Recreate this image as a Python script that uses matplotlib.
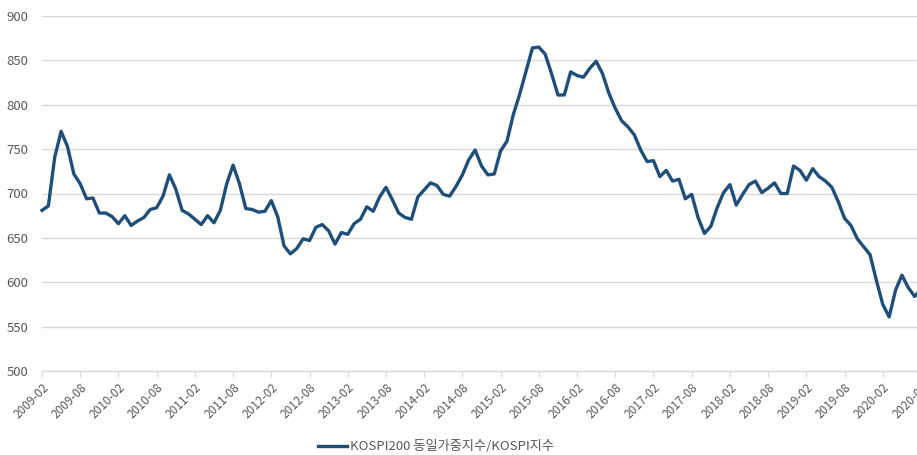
import matplotlib
matplotlib.use("Agg")
import matplotlib.pyplot as plt
import numpy as np

plt.rcParams['font.family'] = ['Noto Sans CJK KR', 'DejaVu Sans']

start_year, start_month = 2009, 2
values = [
    681, 686, 741, 770, 753, 722, 711, 694, 695, 678,
    678, 674, 666, 675, 664, 669, 673, 682, 684, 697,
    721, 705, 681, 677, 671, 665, 675, 667, 681, 711,
    732, 711, 683, 682, 679, 680, 692, 674, 641, 632,
    638, 649, 647, 662, 665, 658, 643, 656, 654, 666,
    671, 685, 680, 696, 707, 693, 678, 673, 671, 696,
    704, 712, 709, 699, 697, 708, 721, 738, 749, 731,
    721, 722, 748, 759, 789, 812, 838, 864, 865, 857,
    835, 811, 811, 837, 833, 831, 841, 849, 835, 813,
    796, 782, 775, 766, 749, 736, 737, 719, 726, 714,
    716, 694, 699, 673, 655, 663, 684, 701, 710, 687,
    699, 710, 714, 701, 706, 712, 700, 700, 731, 726,
    715, 728, 719, 714, 707, 691, 672, 664, 649, 640,
    631, 602, 575, 561, 591, 608, 594, 584, 592,
]
labels = []
for i in range(len(values)):
    m = start_month - 1 + i
    labels.append(f"{start_year + m // 12}-{m % 12 + 1:02d}")
series_name = "KOSPI200 동일가중지수/KOSPI지수"
y_ticks = [500, 550, 600, 650, 700, 750, 800, 850, 900]

W, H = 917, 455
fig = plt.figure(figsize=(W / 100, H / 100), dpi=100)
left_px, right_px, top_px, bot_px = 42, 921, 16, 371
ax = fig.add_axes([left_px / W, (H - bot_px) / H, (right_px - left_px) / W, (bot_px - top_px) / H])

x = np.arange(len(values))
ax.plot(x, values, color='#1F4E79', lw=2.4, solid_joinstyle='round', label=series_name, clip_on=False, zorder=3)

ax.set_xlim(0, len(values) - 1)
ax.set_ylim(500, 900)
ax.set_yticks(y_ticks)
ax.set_yticklabels([str(v) for v in y_ticks], fontsize=9.5, color='#595959')
ax.yaxis.grid(True, color='#d9d9d9', lw=1)
ax.set_axisbelow(True)

tick_idx = list(range(0, len(values), 6))
ax.set_xticks(tick_idx)
ax.set_xticklabels([labels[i] for i in tick_idx], rotation=45, ha='right', rotation_mode='anchor',
                   fontsize=8.5, color='#595959')
ax.tick_params(axis='x', length=4, color='#d9d9d9', pad=3)
ax.tick_params(axis='y', length=0, pad=10)

for s in ['top', 'right', 'left']:
    ax.spines[s].set_visible(False)
ax.spines['bottom'].set_color('#d9d9d9')
ax.spines['bottom'].set_linewidth(1)

fig.legend(loc='center', bbox_to_anchor=(436 / W, 1 - 447 / H), frameon=False,
           fontsize=9.5, handlelength=2.2, labelcolor='#595959', handletextpad=0.3)

fig.savefig('out.png', dpi=100)
